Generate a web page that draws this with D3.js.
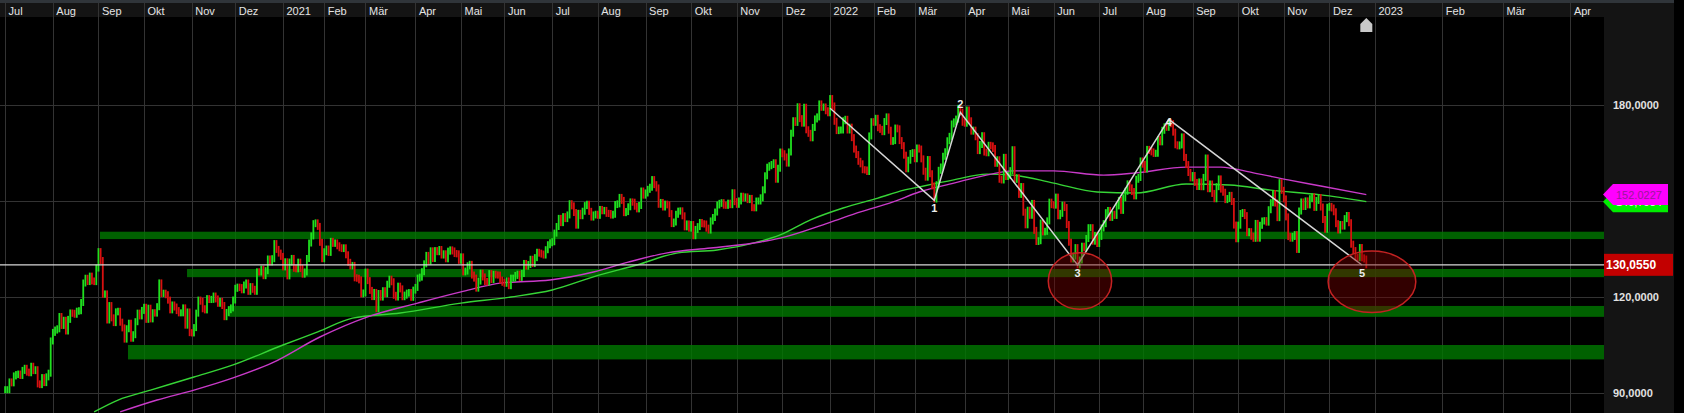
<!DOCTYPE html>
<html><head><meta charset="utf-8">
<script src="https://cdn.jsdelivr.net/npm/d3@7"></script>
<style>html,body{margin:0;padding:0;background:#000;overflow:hidden}svg{display:block}</style>
</head><body><svg id="c" width="1684" height="413"></svg>
<script>
// ---- data (daily closes, one per trading day) ----
const close2020 = [
91.03,91.03,93.46,93.17,95.34,95.75,95.92,95.48,97.06,97.72,96.52,96.33,98.36,97.00,97.27,92.85,92.62,94.81,93.25,95.04,96.19,106.26,
108.94,109.67,110.06,113.90,111.11,112.73,109.38,113.01,115.01,114.91,114.61,115.56,115.71,118.28,124.37,125.86,124.83,126.52,125.01,124.81,129.04,
134.18,131.40,120.88,120.96,112.82,117.32,113.49,112.00,115.36,115.54,112.13,110.34,106.84,110.08,111.81,107.12,108.22,112.28,114.96,114.09,115.81,
116.79,113.02,116.50,113.16,115.08,114.97,116.97,124.40,121.10,121.19,120.71,119.02,115.98,117.51,116.87,115.75,115.04,115.05,116.60,111.20,115.32,108.86,
108.77,110.44,114.95,119.03,118.69,116.32,115.97,119.49,119.21,119.26,120.30,119.39,118.03,118.64,117.34,113.85,115.17,116.03,116.59,119.05,
122.72,123.08,122.94,122.25,123.75,124.38,121.78,123.24,122.41,121.78,127.88,127.81,128.70,126.66,128.23,131.88,130.96,131.97,136.69,134.87,133.72,132.69];
const close2021 = [
129.41,131.01,126.60,130.92,132.05,128.98,128.80,130.89,128.91,127.14,127.83,132.03,136.87,139.07,142.92,143.16,142.06,137.09,131.96,
134.14,134.99,133.94,137.39,136.76,136.91,136.01,135.39,135.13,135.37,133.19,130.84,129.71,129.87,126.00,125.86,125.35,120.99,121.26,
127.79,125.12,122.06,120.13,121.42,116.36,121.09,119.98,121.96,121.03,123.99,125.57,124.76,120.53,119.99,123.39,122.54,120.09,120.59,121.21,121.39,119.90,122.15,
123.00,125.90,126.21,127.90,130.36,133.00,131.24,134.43,132.03,134.50,134.16,134.84,133.11,133.50,131.94,134.32,134.72,134.39,133.58,133.48,131.46,
132.54,127.85,128.10,129.74,130.21,126.85,125.91,122.77,124.97,127.45,126.27,124.85,124.69,127.31,125.43,127.10,126.90,126.85,125.28,124.61,
124.28,125.06,123.54,125.89,125.90,126.74,127.13,126.11,127.35,130.48,129.64,130.15,131.79,130.46,132.30,133.98,133.70,133.41,133.11,134.78,136.33,136.96,
137.27,139.96,142.02,144.57,143.24,145.11,144.50,145.64,149.15,148.48,146.39,142.45,146.15,145.40,146.80,148.56,148.99,146.77,144.98,145.64,145.86,
145.52,147.36,146.95,147.06,146.14,146.09,145.60,145.86,148.89,149.10,151.12,150.19,146.36,146.70,148.19,149.71,149.62,148.36,147.54,148.60,153.12,151.83,
152.51,153.65,154.30,156.69,155.11,154.07,148.97,149.55,148.12,149.03,148.79,146.06,142.94,143.43,145.85,146.83,146.92,145.37,141.91,142.83,141.50,
142.65,139.14,141.11,142.00,143.29,142.90,142.81,141.51,140.91,143.76,144.84,146.55,148.76,149.26,149.48,148.69,148.64,149.32,148.85,152.57,149.80,
148.96,150.02,151.49,150.96,151.28,150.44,150.81,147.92,147.87,149.99,150.00,151.00,153.49,157.87,160.55,161.02,161.41,161.94,156.81,160.24,165.30,
164.77,163.76,161.84,165.32,171.18,175.08,174.56,179.45,175.74,174.33,179.30,172.26,171.14,169.75,172.99,175.64,176.28,180.33,179.29,179.38,178.20,177.57];
const close2022 = [
182.01,179.70,174.92,172.00,172.17,172.19,175.08,175.53,172.19,173.07,169.80,166.23,164.51,162.41,161.62,159.78,159.69,159.22,170.33,174.78,
174.61,175.84,172.90,172.39,171.66,174.83,176.28,172.12,168.64,168.88,172.79,172.55,168.88,167.30,164.32,160.07,162.74,164.85,165.12,
163.20,166.56,166.23,163.17,159.30,157.44,162.95,158.52,154.73,150.62,155.09,159.59,160.62,163.98,165.38,168.82,170.21,174.07,174.72,175.60,178.96,177.77,174.61,
174.31,178.44,175.06,171.83,172.14,170.09,165.75,167.66,170.40,165.29,165.07,167.40,167.23,166.42,161.79,162.88,156.80,156.57,163.64,157.65,
157.96,159.48,166.02,156.77,157.28,152.06,154.51,146.50,142.56,147.11,145.54,149.24,140.82,137.35,137.59,143.11,140.36,140.52,143.78,149.64,148.84,
148.71,151.21,145.38,146.14,148.71,147.96,142.64,137.13,131.88,132.76,135.43,130.06,131.56,135.87,135.35,138.27,141.66,141.66,137.44,139.23,136.72,
138.93,141.56,142.92,146.35,147.04,144.87,145.86,145.49,148.47,150.17,147.07,151.00,153.04,155.35,154.09,152.95,151.60,156.79,157.35,162.51,
161.51,160.01,166.13,165.81,165.35,164.87,164.92,169.24,168.49,172.10,173.19,173.03,174.55,174.15,171.52,167.57,167.23,167.53,170.03,163.62,161.38,158.91,157.22,
157.96,155.81,154.53,155.96,154.46,157.37,163.43,153.84,155.31,152.37,150.70,154.48,156.90,153.72,152.74,150.43,150.77,151.76,149.84,142.48,138.20,
142.45,146.10,146.40,145.43,140.09,140.42,138.98,138.34,142.99,138.38,142.41,143.75,143.86,143.39,147.27,149.45,152.34,149.35,144.80,155.74,153.34,
150.65,145.03,138.88,138.38,138.92,139.50,134.87,146.87,149.70,148.28,150.04,148.79,150.72,151.29,148.01,150.18,151.07,148.11,144.22,141.17,148.03,
148.31,147.81,146.63,142.91,140.94,142.65,142.16,144.49,145.47,143.21,136.50,134.51,132.37,132.30,135.45,132.23,131.86,130.055];

// month ticks: label and slot index of first trading day (future months: calendar days)
const monthLabels = ["Jul","Aug","Sep","Okt","Nov","Dez","2021","Feb","Mär","Apr","Mai","Jun","Jul","Aug","Sep","Okt","Nov","Dez",
  "2022","Feb","Mär","Apr","Mai","Jun","Jul","Aug","Sep","Okt","Nov","Dez","2023","Feb","Mär","Apr"];
const monthStart = [0,22,43,64,86,106,128,147,166,189,210,230,252,273,295,316,337,358,
  380,400,419,442,462,483,504,524,547,568,589,610,631,662,690,721];
const yTicks = [90,120,150,180];
const lastPrice = 130.055;
const maMagentaLast = 152.0227;
const maGreenLast = 149.7984;

// moving averages: [slot, value]
const maGreen = [[41,84.1],[52,87.8],[67,90.9],[87,95.0],[105,98.8],[128,105.0],[144,109.1],[160,113.4],[182,115.0],[210,118.1],
  [233,120.0],[252,122.2],[271,126.3],[291,130.0],[310,133.8],[328,134.7],[345,136.9],[357,139.4],[371,144.1],[386,147.8],
  [402,150.9],[414,153.4],[421,154.4],[437,156.6],[452,158.4],[464,158.1],[483,155.6],[503,152.8],[521,152.5],[544,155.3],
  [564,155.0],[583,153.4],[606,151.9],[627,149.8]];
const maMagenta = [[53,84.1],[70,87.8],[87,90.9],[105,94.7],[123,99.4],[145,107.5],[167,113.8],[190,118.1],[210,121.6],[229,124.4],
  [251,125.3],[271,127.8],[287,130.9],[305,133.8],[325,135.3],[348,137.2],[357,138.4],[379,143.1],[394,146.6],[409,149.7],
  [421,152.8],[437,155.6],[452,158.1],[464,159.4],[483,159.4],[506,158.1],[521,158.8],[544,160.6],[560,160.6],[575,158.8],
  [591,156.6],[606,154.7],[627,152.0]];

// support zones: start slot, low, high
const zoneStart = [43.7, 83.8, 102.8, 56.6];
const zoneLow = [138.1, 126.2, 113.8, 100.5];
const zoneHigh = [140.4, 128.75, 117.2, 105.0];

// zigzag
const zigIdx = [380,428,440,494,536,625];
const zigVal = [179.0,150.2,177.7,130.0,175.5,130.0];
const zigLabel = ["","1","2","3","4","5"];

// circles: centre slot, centre value, half-width (slots), half-height (value)
const circIdx = [495.1, 629.6];
const circVal = [125.0, 124.75];
const circRx = [14.6, 20.2];
const circRy = [8.85, 9.6];

// ---- drawing ----
const closes = close2020.concat(close2021, close2022);
const W = 1684, H = 413, plotR = 1604, plotT = 17, plotB = 413, panelR = 1674;
const x = d3.scaleLinear().domain([0, 721]).range([5.1, 5.1 + 721 * 2.171]);
const y = d3.scaleLinear().domain([90, 180]).range([393, 105]);
const font = "'Liberation Sans', Arial, sans-serif";
const svg = d3.select('#c');

svg.append('rect').attr('width', W).attr('height', H).attr('fill', '#000');
svg.append('rect').attr('x', 0).attr('y', 0).attr('width', panelR).attr('height', 3).attr('fill', '#30353a');
svg.append('rect').attr('x', 0).attr('y', 3).attr('width', panelR).attr('height', plotT - 3).attr('fill', '#141414');
svg.append('rect').attr('x', plotR).attr('y', plotT).attr('width', panelR - plotR).attr('height', plotB - plotT).attr('fill', '#141414');

svg.append('clipPath').attr('id', 'clip').append('rect')
  .attr('x', 0).attr('y', plotT).attr('width', plotR).attr('height', plotB - plotT);

// x axis (top) with gridlines
const xg = svg.append('g').attr('transform', 'translate(0,3)')
  .call(d3.axisTop(x).tickValues(monthStart).tickFormat((d, i) => monthLabels[i]).tickSize(-(plotB - 3)));
xg.select('.domain').remove();
xg.selectAll('line').attr('stroke', '#333').attr('shape-rendering', 'crispEdges');
xg.selectAll('text').attr('x', 3).attr('y', 11.5).attr('dy', null).attr('text-anchor', 'start')
  .attr('fill', '#e4e4e4').style('font', `11px ${font}`);

// y axis (right) with gridlines
const fmt = d3.formatLocale({decimal: ',', thousands: '.', grouping: [3], currency: ['', '']}).format('.4f');
const yg = svg.append('g').attr('transform', `translate(${plotR},0)`)
  .call(d3.axisRight(y).tickValues(yTicks).tickFormat(fmt).tickSize(-plotR).tickPadding(9));
yg.select('.domain').remove();
yg.selectAll('line').attr('stroke', '#333').attr('shape-rendering', 'crispEdges');
yg.selectAll('text').attr('fill', '#e2e2e2').style('font', `bold 11px ${font}`);
// the 150 label sits under the value tags in the reference
yg.selectAll('.tick').filter(d => d === 150).select('text').remove();

const plot = svg.append('g').attr('clip-path', 'url(#clip)');

// zones
plot.selectAll('rect.zone').data(zoneStart).join('rect').attr('class', 'zone')
  .attr('x', d => x(d)).attr('width', (d) => plotR - x(d))
  .attr('y', (d, i) => y(zoneHigh[i])).attr('height', (d, i) => y(zoneLow[i]) - y(zoneHigh[i]))
  .attr('fill', 'rgb(0,118,0)').attr('opacity', 0.82);

// moving averages
const line = d3.line().x(d => x(d[0])).y(d => y(d[1])).curve(d3.curveMonotoneX);
plot.append('path').datum(maGreen).attr('d', line).attr('fill', 'none').attr('stroke', '#36d436').attr('stroke-width', 1.4);
plot.append('path').datum(maMagenta).attr('d', line).attr('fill', 'none').attr('stroke', '#c93ac9').attr('stroke-width', 1.4);

// daily bars (from previous close to close)
const prev = i => (i > 0 ? closes[i - 1] : closes[0]);
plot.selectAll('rect.bar').data(closes).join('rect').attr('class', 'bar')
  .attr('x', (d, i) => x(i) - 0.9).attr('width', 1.8)
  .attr('y', (d, i) => Math.min(y(d), y(prev(i))) - 3.5)
  .attr('height', (d, i) => Math.abs(y(d) - y(prev(i))) + 7)
  .attr('fill', (d, i) => (d >= prev(i) ? '#1fe01f' : '#d81010'));

// last price line
plot.append('line').attr('x1', 0).attr('x2', plotR).attr('y1', y(lastPrice)).attr('y2', y(lastPrice))
  .attr('stroke', '#d8d8d8').attr('stroke-width', 1.2);

// zigzag
const zig = zigIdx.map((d, i) => [d, zigVal[i]]);
plot.append('path').datum(zig).attr('d', d3.line().x(d => x(d[0])).y(d => y(d[1])))
  .attr('fill', 'none').attr('stroke', '#d6d6d6').attr('stroke-width', 1.5);

// circles
plot.selectAll('ellipse').data(circIdx).join('ellipse')
  .attr('cx', d => x(d)).attr('cy', (d, i) => y(circVal[i]))
  .attr('rx', (d, i) => x(d + circRx[i]) - x(d)).attr('ry', (d, i) => y(circVal[i] - circRy[i]) - y(circVal[i]))
  .attr('fill', 'rgba(120,0,0,0.42)').attr('stroke', '#c42222').attr('stroke-width', 1.5);

// zigzag labels
const labOff = {"1": 8, "2": -8, "3": 8, "4": 3, "5": 8};
plot.selectAll('text.zl').data(zig.filter((d, i) => zigLabel[i])).join('text').attr('class', 'zl')
  .attr('x', d => x(d[0])).attr('y', (d) => y(d[1]))
  .attr('dy', d => (labOff[zigLabel[zig.indexOf(d)]] + 4) + 'px')
  .attr('text-anchor', 'middle').attr('fill', '#ececec').style('font', `bold 11px ${font}`)
  .text(d => zigLabel[zig.indexOf(d)]);

// right-side value tags
function tagShape(val, fill) {
  const cy = y(val), l = plotR - 1, r = 1668;
  svg.append('path').attr('d', `M${l},${cy}L${l + 10},${cy - 10.5}L${r},${cy - 10.5}L${r},${cy + 10.5}L${l + 10},${cy + 10.5}Z`)
    .attr('fill', fill);
  return cy;
}
// green tag (mostly covered by the magenta one); its text only shows below the magenta tag
const gcy = tagShape(maGreenLast, '#00ee00');
const mcy0 = y(maMagentaLast);
svg.append('clipPath').attr('id', 'gclip').append('rect')
  .attr('x', plotR).attr('y', mcy0 + 10.5).attr('width', panelR - plotR).attr('height', 20);
svg.append('text').attr('x', plotR + 12).attr('y', gcy + 4).attr('fill', '#f2f2f2')
  .attr('clip-path', 'url(#gclip)').style('font', `11px ${font}`).text(fmt(maGreenLast));
const mcy = tagShape(maMagentaLast, '#ff00ff');
svg.append('text').attr('x', plotR + 12).attr('y', mcy + 4).attr('fill', '#9a1a9a')
  .style('font', `11px ${font}`).text(maMagentaLast.toFixed(4));

svg.append('rect').attr('x', plotR).attr('y', y(lastPrice) - 11).attr('width', 69).attr('height', 22).attr('fill', '#c20000');
svg.append('text').attr('x', plotR + 2).attr('y', y(lastPrice) + 4.5).attr('fill', '#ffffff')
  .style('font', `bold 12px ${font}`).text(fmt(lastPrice));

// current-bar marker
const mx = x(closes.length - 1);
svg.append('path').attr('d', `M${mx - 6},32L${mx - 6},24L${mx},18L${mx + 6},24L${mx + 6},32Z`).attr('fill', '#c8c8c8');
</script></body></html>
